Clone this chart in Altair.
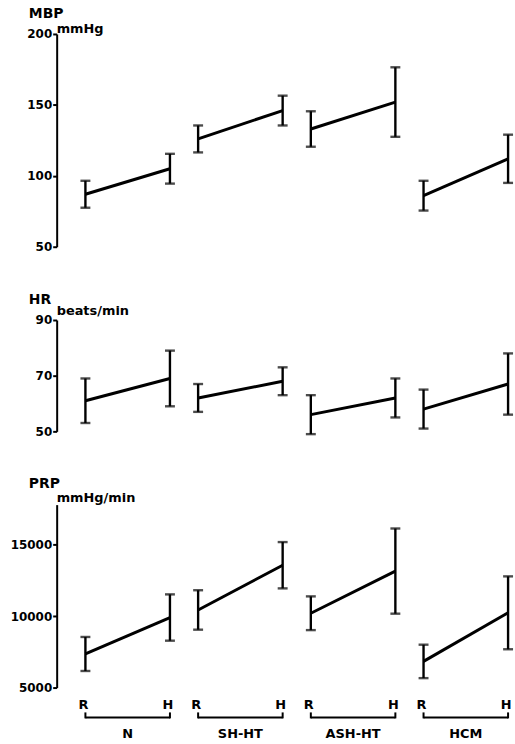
import altair as alt
import pandas as pd

groups = ["N", "SH-HT", "ASH-HT", "HCM"]
conditions = ["R", "H"]

mbp_rest = [87, 126, 133, 86]
mbp_rest_sd = [9.5, 9.5, 12.5, 10.5]
mbp_hand = [105, 146, 152, 112]
mbp_hand_sd = [10.5, 10.5, 24.5, 17]

hr_rest = [61, 62, 56, 58]
hr_rest_sd = [8, 5, 7, 7]
hr_hand = [69, 68, 62, 67]
hr_hand_sd = [10, 5, 7, 11]

prp_rest = [7350, 10430, 10200, 6830]
prp_rest_sd = [1190, 1380, 1180, 1170]
prp_hand = [9900, 13560, 13150, 10230]
prp_hand_sd = [1620, 1620, 2980, 2550]

mbp_ticks = [50, 100, 150, 200]
hr_ticks = [50, 70, 90]
prp_ticks = [5000, 10000, 15000]

FONT = "DejaVu Sans"
X_SCALE = alt.Scale(domain=[-1.02, 15.14], nice=False, zero=False)
W = 458


def make_df(rest, rest_sd, hand, hand_sd):
    rows = []
    for g, name in enumerate(groups):
        pairs = [(rest[g], rest_sd[g]), (hand[g], hand_sd[g])]
        for h, (m, s) in enumerate(pairs):
            rows.append({"group": name, "cond": conditions[h],
                         "pos": 4 * g + 3 * h, "mean": m,
                         "lo": m - s, "hi": m + s})
    return pd.DataFrame(rows)


def panel(df, domain, ticks, height, name, unit, name_dy, unit_dy, footer=False):
    base = alt.Chart(df)
    x = alt.X("pos:Q", scale=X_SCALE, axis=None)
    ys = alt.Scale(domain=domain, nice=False, zero=False)
    ax = alt.Axis(values=ticks, format="d", title=None, grid=False)
    line = base.mark_line(color="black", strokeWidth=3).encode(
        x=x, y=alt.Y("mean:Q", scale=ys, axis=ax), detail="group:N")
    bars = base.mark_rule(color="black", strokeWidth=2.4).encode(
        x=x, y=alt.Y("lo:Q", scale=ys, axis=ax), y2="hi:Q")
    cap_lo = base.mark_tick(color="black", orient="horizontal", size=10,
                            thickness=2.4).encode(
        x=x, y=alt.Y("lo:Q", scale=ys, axis=ax))
    cap_hi = base.mark_tick(color="black", orient="horizontal", size=10,
                            thickness=2.4).encode(
        x=x, y=alt.Y("hi:Q", scale=ys, axis=ax))
    tdf = pd.DataFrame({"t": [name], "u": [unit]})
    t1 = alt.Chart(tdf).mark_text(font=FONT, fontWeight="bold", fontSize=14,
                                  align="left", baseline="alphabetic",
                                  color="black").encode(
        x=alt.value(-28), y=alt.value(name_dy), text="t:N")
    t2 = alt.Chart(tdf).mark_text(font=FONT, fontWeight="bold", fontSize=13,
                                  align="left", baseline="alphabetic",
                                  color="black").encode(
        x=alt.value(0), y=alt.value(unit_dy), text="u:N")
    layers = [line, bars, cap_lo, cap_hi, t1, t2]
    if footer:
        letters = base.mark_text(font=FONT, fontWeight="bold", fontSize=13,
                                 align="center", baseline="alphabetic",
                                 color="black", dx=-2).encode(
            x=x, y=alt.value(height + 22), text="cond:N")
        gdf = pd.DataFrame({"group": groups,
                            "p0": [4 * g for g in range(len(groups))],
                            "p1": [4 * g + 3 for g in range(len(groups))],
                            "mid": [4 * g + 1.5 for g in range(len(groups))]})
        gb = alt.Chart(gdf)
        brack = gb.mark_rule(color="black", strokeWidth=2).encode(
            x=alt.X("p0:Q", scale=X_SCALE, axis=None), x2="p1:Q",
            y=alt.value(height + 30))
        end0 = gb.mark_rule(color="black", strokeWidth=2).encode(
            x=alt.X("p0:Q", scale=X_SCALE, axis=None),
            y=alt.value(height + 25), y2=alt.value(height + 31))
        end1 = gb.mark_rule(color="black", strokeWidth=2).encode(
            x=alt.X("p1:Q", scale=X_SCALE, axis=None),
            y=alt.value(height + 25), y2=alt.value(height + 31))
        gname = gb.mark_text(font=FONT, fontWeight="bold", fontSize=13,
                             align="center", baseline="alphabetic",
                             color="black").encode(
            x=alt.X("mid:Q", scale=X_SCALE, axis=None),
            y=alt.value(height + 51), text="group:N")
        layers += [letters, brack, end0, end1, gname]
    return alt.layer(*layers).properties(width=W, height=height)


p1 = panel(make_df(mbp_rest, mbp_rest_sd, mbp_hand, mbp_hand_sd),
           [50, 200], mbp_ticks, 214, "MBP", "mmHg", -16, -1)
p2 = panel(make_df(hr_rest, hr_rest_sd, hr_hand, hr_hand_sd),
           [50, 90], hr_ticks, 112, "HR", "beats/min", -16.5, -5)
p3 = panel(make_df(prp_rest, prp_rest_sd, prp_hand, prp_hand_sd),
           [5000, 17800], prp_ticks, 184, "PRP", "mmHg/min", -17, -3,
           footer=True)

chart = alt.vconcat(p1, p2, p3, spacing=73.7, bounds="flush").properties(
    padding={"left": 10, "top": 5, "right": 0, "bottom": 0},
    background="white",
).configure_view(stroke=None).configure_axis(
    domainColor="black", domainWidth=2, tickColor="black", tickWidth=2,
    tickSize=4, labelFont=FONT, labelFontWeight="bold", labelFontSize=12,
    labelColor="black", labelPadding=1, grid=False,
)

chart.save("out.html", embed_options={"renderer": "svg", "actions": False})
